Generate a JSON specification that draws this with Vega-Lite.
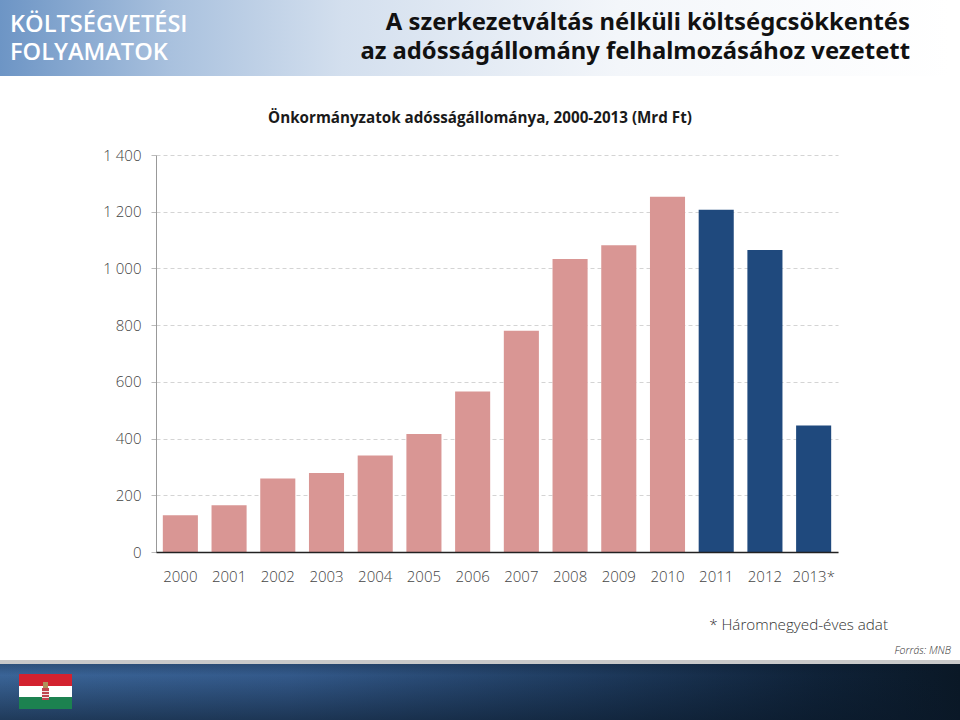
{
  "$schema": "https://vega.github.io/schema/vega-lite/v6.json",
  "width": 682,
  "height": 397,
  "autosize": {"type": "none"},
  "padding": {"left": 156, "top": 155, "right": 122, "bottom": 168},
  "background": "white",
  "config": {"view": {"stroke": null}},
  "resolve": {"scale": {"x": "independent", "y": "independent"}, "axis": {"x": "independent", "y": "independent"}},
  "layer": [
    {
      "encoding": {
        "x": {"field": "x0", "type": "quantitative", "axis": null, "scale": {"domain": [156, 838], "nice": false, "zero": false}},
        "x2": {"field": "x1"},
        "y": {"field": "y0", "type": "quantitative", "axis": null, "scale": {"domain": [155, 552], "nice": false, "zero": false, "reverse": true}},
        "y2": {"field": "y1"}
      },
      "layer": [
        {"data": {"values": [{"x0": 0, "x1": 950, "y0": 0, "y1": 76}]},
         "mark": {"type": "rect", "fill": {"gradient": "linear", "x1": 0, "y1": 0, "x2": 1, "y2": 0, "stops": [{"offset": 0, "color": "#6d95c5"}, {"offset": 0.18, "color": "#a9c1de"}, {"offset": 0.36, "color": "#d3dfee"}, {"offset": 0.65, "color": "#f3f6fa"}, {"offset": 1, "color": "#ffffff"}]}}},
        {"data": {"values": [{"x0": 0, "x1": 960, "y0": 660, "y1": 664}]},
         "mark": {"type": "rect", "fill": "#c9c9c9"}},
        {"data": {"values": [{"x0": 0, "x1": 960, "y0": 664, "y1": 720}]},
         "mark": {"type": "rect", "fill": {"gradient": "linear", "x1": 0, "y1": 0, "x2": 1, "y2": 0, "stops": [{"offset": 0, "color": "#3a6497"}, {"offset": 0.3, "color": "#33598a"}, {"offset": 0.6, "color": "#1f3c60"}, {"offset": 0.85, "color": "#0f2238"}, {"offset": 1, "color": "#0a1826"}]}}},
        {"data": {"values": [{"x0": 0, "x1": 960, "y0": 664, "y1": 720}]},
         "mark": {"type": "rect", "fill": {"gradient": "linear", "x1": 0, "y1": 0, "x2": 0, "y2": 1, "stops": [{"offset": 0, "color": "rgba(10,24,40,0.25)"}, {"offset": 0.2, "color": "rgba(10,24,40,0)"}, {"offset": 1, "color": "rgba(10,24,40,0.55)"}]}}},
        {"data": {"values": [{"x0": 19, "x1": 72, "y0": 674, "y1": 686}]}, "mark": {"type": "rect", "fill": "#d3222f"}},
        {"data": {"values": [{"x0": 19, "x1": 72, "y0": 686, "y1": 697}]}, "mark": {"type": "rect", "fill": "#ffffff"}},
        {"data": {"values": [{"x0": 19, "x1": 72, "y0": 697, "y1": 709}]}, "mark": {"type": "rect", "fill": "#1c8250"}},
        {"data": {"values": [{"x0": 43, "x1": 48, "y0": 682, "y1": 688}]}, "mark": {"type": "rect", "fill": "#b0905a"}},
        {"data": {"values": [{"x0": 42, "x1": 49, "y0": 688, "y1": 700}]}, "mark": {"type": "rect", "fill": "#c0454f"}},
        {"data": {"values": [{"x0": 42, "x1": 49, "y0": 691, "y1": 692}, {"x0": 42, "x1": 49, "y0": 694, "y1": 695}, {"x0": 42, "x1": 49, "y0": 697, "y1": 698}]}, "mark": {"type": "rect", "fill": "#f3e3e3"}},
        {"data": {"values": [{"x0": 10, "y0": 25, "t": "KÖLTSÉGVETÉSI"}, {"x0": 10, "y0": 53, "t": "FOLYAMATOK"}]},
         "mark": {"type": "text", "align": "left", "baseline": "middle", "font": "Open Sans", "fontSize": 23.6, "fontWeight": 600, "lineHeight": 24, "color": "#ffffff"},
         "encoding": {"x2": {"value": null}, "y2": {"value": null}, "text": {"field": "t"}}},
        {"data": {"values": [{"x0": 910, "y0": 23, "t": "A szerkezetváltás nélküli költségcsökkentés"}, {"x0": 910, "y0": 52, "t": "az adósságállomány felhalmozásához vezetett"}]},
         "mark": {"type": "text", "align": "right", "baseline": "middle", "font": "Noto Sans", "fontSize": 23.8, "fontWeight": "bold", "color": "#111111"},
         "encoding": {"x2": {"value": null}, "y2": {"value": null}, "text": {"field": "t"}}},
        {"data": {"values": [{"x0": 480, "y0": 118, "t": "Önkormányzatok adósságállománya, 2000-2013 (Mrd Ft)"}]},
         "mark": {"type": "text", "align": "center", "baseline": "middle", "font": "Open Sans", "fontSize": 15.2, "fontWeight": "bold", "color": "#1a1a1a"},
         "encoding": {"x2": {"value": null}, "y2": {"value": null}, "text": {"field": "t"}}},
        {"data": {"values": [{"x0": 888, "y0": 625, "t": "* Háromnegyed-éves adat"}]},
         "mark": {"type": "text", "align": "right", "baseline": "middle", "font": "Open Sans", "fontSize": 15.2, "fontWeight": 300, "color": "#333333"},
         "encoding": {"x2": {"value": null}, "y2": {"value": null}, "text": {"field": "t"}}},
        {"data": {"values": [{"x0": 951, "y0": 651, "t": "Forrás: MNB"}]},
         "mark": {"type": "text", "align": "right", "baseline": "middle", "font": "Open Sans", "fontSize": 10.5, "fontStyle": "italic", "fontWeight": 300, "color": "#333333"},
         "encoding": {"x2": {"value": null}, "y2": {"value": null}, "text": {"field": "t"}}}
      ]
    },
    {
      "data": {"values": [
        {"ev": "2000", "adossag": 130, "idoszak": "2010-ig"},
        {"ev": "2001", "adossag": 165, "idoszak": "2010-ig"},
        {"ev": "2002", "adossag": 259, "idoszak": "2010-ig"},
        {"ev": "2003", "adossag": 279, "idoszak": "2010-ig"},
        {"ev": "2004", "adossag": 340, "idoszak": "2010-ig"},
        {"ev": "2005", "adossag": 416, "idoszak": "2010-ig"},
        {"ev": "2006", "adossag": 566, "idoszak": "2010-ig"},
        {"ev": "2007", "adossag": 780, "idoszak": "2010-ig"},
        {"ev": "2008", "adossag": 1033, "idoszak": "2010-ig"},
        {"ev": "2009", "adossag": 1082, "idoszak": "2010-ig"},
        {"ev": "2010", "adossag": 1253, "idoszak": "2010-ig"},
        {"ev": "2011", "adossag": 1207, "idoszak": "2010 után"},
        {"ev": "2012", "adossag": 1065, "idoszak": "2010 után"},
        {"ev": "2013*", "adossag": 446, "idoszak": "2010 után"}
      ]},
      "mark": {"type": "bar"},
      "encoding": {
        "x": {"field": "ev", "type": "nominal", "title": null,
              "scale": {"paddingInner": 0.28, "paddingOuter": 0.14},
              "axis": {"orient": "bottom", "labelAngle": 0, "domain": true, "domainColor": "#222222", "domainWidth": 1.5, "ticks": false, "labelPadding": 17, "labelFont": "Open Sans", "labelFontSize": 15, "labelFontWeight": 300, "labelColor": "#444444", "zindex": 1}},
        "y": {"field": "adossag", "type": "quantitative", "title": null,
              "scale": {"domain": [0, 1400], "nice": false},
              "axis": {"orient": "left", "values": [0, 200, 400, 600, 800, 1000, 1200, 1400], "labelExpr": "replace(format(datum.value, ','), ',', ' ')", "grid": true, "gridColor": "#d4d4d4", "gridDash": [4, 3], "gridWidth": 1, "domain": true, "domainColor": "#999999", "ticks": true, "tickColor": "#bbbbbb", "tickSize": 5, "labelPadding": 10, "labelFont": "Open Sans", "labelFontSize": 15, "labelFontWeight": 300, "labelColor": "#444444"}},
        "color": {"field": "idoszak", "type": "nominal", "legend": null, "scale": {"domain": ["2010-ig", "2010 után"], "range": ["#d99694", "#1f497d"]}}
      }
    }
  ]
}
